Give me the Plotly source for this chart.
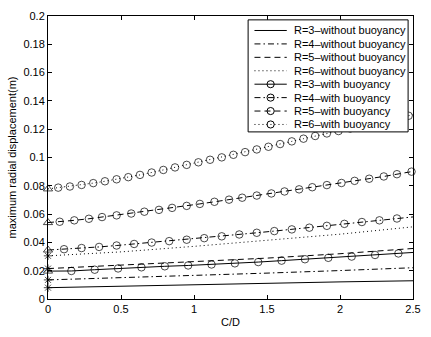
import plotly.graph_objects as go

# ---------------- data ----------------
# without buoyancy (lines, asterisk at C/D = 0)
x_wo = [0, 0.5, 1.0, 1.5, 2.0, 2.5]
r3_wo = [0.0080, 0.0091, 0.0102, 0.0112, 0.0121, 0.0129]
r4_wo = [0.0135, 0.0150, 0.0166, 0.0183, 0.0201, 0.0221]
r5_wo = [0.0215, 0.0240, 0.0264, 0.0289, 0.0320, 0.0357]
r6_wo = [0.0305, 0.0333, 0.0372, 0.0413, 0.0458, 0.0510]

# with buoyancy (first point at C/D=0 drawn as triangle, last point = line end)
x_r3_w = [0, 0.16, 0.32, 0.48, 0.64, 0.80, 0.96, 1.12, 1.28, 1.44, 1.60, 1.76, 1.92, 2.08, 2.24, 2.40, 2.5]
r3_w = [0.0197, 0.0198, 0.0207, 0.0216, 0.0224, 0.0231, 0.0237, 0.0244, 0.0252, 0.0261, 0.0271,
        0.0281, 0.0291, 0.0300, 0.0311, 0.0322, 0.0329]

x_r4_w = [0, 0.11, 0.23, 0.35, 0.47, 0.59, 0.71, 0.83, 0.95, 1.07, 1.19, 1.31, 1.43, 1.55, 1.67,
          1.79, 1.91, 2.03, 2.15, 2.27, 2.39, 2.5]
r4_w = [0.0346, 0.0352, 0.0360, 0.0368, 0.0378, 0.0389, 0.0399, 0.0409, 0.0419, 0.0430, 0.0443,
        0.0456, 0.0468, 0.0480, 0.0492, 0.0504, 0.0517, 0.0531, 0.0544, 0.0556, 0.0569, 0.0580]

x_r5_w = [0, 0.08, 0.18, 0.28, 0.37, 0.47, 0.57, 0.66, 0.76, 0.85, 0.95, 1.04, 1.14, 1.24, 1.33,
          1.43, 1.53, 1.62, 1.72, 1.81, 1.91, 2.01, 2.10, 2.20, 2.30, 2.39, 2.49, 2.5]
r5_w = [0.0540, 0.0546, 0.0556, 0.0567, 0.0579, 0.0591, 0.0604, 0.0617, 0.0630, 0.0644, 0.0658,
        0.0672, 0.0687, 0.0702, 0.0716, 0.0731, 0.0746, 0.0760, 0.0775, 0.0790, 0.0805, 0.0820,
        0.0835, 0.0850, 0.0866, 0.0882, 0.0900, 0.0902]

x_r6_w = [0, 0.07, 0.15, 0.23, 0.31, 0.39, 0.47, 0.55, 0.63, 0.71, 0.79, 0.87, 0.95, 1.03, 1.11,
          1.19, 1.27, 1.35, 1.43, 1.51, 1.59, 1.67, 1.75, 1.83, 1.91, 1.99, 2.07, 2.15, 2.23,
          2.31, 2.39, 2.47, 2.5]
r6_w = [0.0778, 0.0787, 0.0795, 0.0806, 0.0819, 0.0832, 0.0846, 0.0861, 0.0877, 0.0894, 0.0912,
        0.0930, 0.0948, 0.0966, 0.0984, 0.1001, 0.1019, 0.1038, 0.1057, 0.1076, 0.1095, 0.1114,
        0.1133, 0.1152, 0.1170, 0.1187, 0.1205, 0.1223, 0.1241, 0.1259, 0.1277, 0.1295, 0.1302]

legend_labels = ["R=3\u2013without buoyancy", "R=4\u2013without buoyancy",
                 "R=5\u2013without buoyancy", "R=6\u2013without buoyancy",
                 "R=3\u2013with buoyancy", "R=4\u2013with buoyancy",
                 "R=5\u2013with buoyancy", "R=6\u2013with buoyancy"]

x_ticks = [0, 0.5, 1, 1.5, 2, 2.5]
x_ticktext = ["0", "0.5", "1", "1.5", "2", "2.5"]
y_ticks = [0, 0.02, 0.04, 0.06, 0.08, 0.1, 0.12, 0.14, 0.16, 0.18, 0.2]
y_ticktext = ["0", "0.02", "0.04", "0.06", "0.08", "0.1", "0.12", "0.14", "0.16", "0.18", "0.2"]

# ---------------- styles ----------------
FONT = "Liberation Sans, Arial, sans-serif"
DASHES = ["solid", "6px,3px,1.5px,3px", "6px,4px", "1px,3px"]
W, H = 431, 337
ML, MR, MT, MB = 48, 10, 10, 34

fig = go.Figure()

wo_series = [r3_wo, r4_wo, r5_wo, r6_wo]
for i, ys in enumerate(wo_series):
    n = len(ys)
    fig.add_trace(go.Scatter(
        x=x_wo, y=ys, mode="lines+markers", showlegend=False, cliponaxis=False,
        line=dict(color="black", width=1, dash=DASHES[i]),
        marker=dict(symbol=["asterisk-open"] + ["circle-open"] * (n - 1),
                    size=[7] + [0] * (n - 1), color="black",
                    line=dict(color="black", width=1)),
    ))

w_series = [(x_r3_w, r3_w), (x_r4_w, r4_w), (x_r5_w, r5_w), (x_r6_w, r6_w)]
for i, (xs, ys) in enumerate(w_series):
    n = len(ys)
    fig.add_trace(go.Scatter(
        x=xs, y=ys, mode="lines+markers", showlegend=False, cliponaxis=False,
        line=dict(color="black", width=1, dash=DASHES[i]),
        marker=dict(symbol=["triangle-up-open"] + ["circle-open"] * (n - 1),
                    size=[8] + [7.5] * (n - 2) + [0], color="black",
                    line=dict(color="black", width=1)),
    ))

# ---------------- custom legend (layout decorations) ----------------
PW = W - ML - MR
PH = H - MT - MB


def px_x(p):
    return (p - ML) / PW


def px_y(p):
    return (H - MB - p) / PH


shapes = []
annotations = []
box = dict(x0=252.5, x1=416, y0=14, y1=130)
shapes.append(dict(type="rect", xref="paper", yref="paper", layer="above",
                   x0=px_x(box["x0"]), x1=px_x(box["x1"]),
                   y0=px_y(box["y1"]), y1=px_y(box["y0"]),
                   fillcolor="white", line=dict(color="black", width=1)))
row0, drow = 25.0, 13.9
for k, lab in enumerate(legend_labels):
    yc = row0 + k * drow
    dash = DASHES[k % 4]
    shapes.append(dict(type="line", xref="paper", yref="paper", layer="above",
                       x0=px_x(259), x1=px_x(292), y0=px_y(yc), y1=px_y(yc),
                       line=dict(color="black", width=1, dash=dash)))
    if k >= 4:
        r = 3.7
        shapes.append(dict(type="circle", xref="paper", yref="paper", layer="above",
                           x0=px_x(275.5 - r), x1=px_x(275.5 + r),
                           y0=px_y(yc + r), y1=px_y(yc - r),
                           fillcolor="rgba(0,0,0,0)", line=dict(color="black", width=1)))
    annotations.append(dict(xref="paper", yref="paper", x=px_x(297), y=px_y(yc),
                            text=lab, showarrow=False, xanchor="left", yanchor="middle",
                            font=dict(family=FONT, size=11, color="black")))

axis_common = dict(showline=True, linecolor="black", linewidth=1, mirror="allticks",
                   ticks="inside", ticklen=4, tickcolor="black", showgrid=False,
                   zeroline=False, tickfont=dict(family=FONT, size=11, color="black"))

fig.update_layout(
    width=W, height=H,
    margin=dict(l=ML, r=MR, t=MT, b=MB),
    paper_bgcolor="white", plot_bgcolor="white",
    font=dict(family=FONT, size=11, color="black"),
    xaxis=dict(range=[0, 2.5], tickvals=x_ticks, ticktext=x_ticktext,
               title=dict(text="C/D", font=dict(family=FONT, size=11), standoff=4),
               **axis_common),
    yaxis=dict(range=[0, 0.2], tickvals=y_ticks, ticktext=y_ticktext,
               title=dict(text="maximum radial displacement(m)",
                          font=dict(family=FONT, size=11), standoff=4),
               **axis_common),
    shapes=shapes,
    annotations=annotations,
    showlegend=False,
)

fig.write_html("out.html", config={"displayModeBar": False},
               post_script="document.body.style.margin='0';document.body.style.overflow='hidden';")
